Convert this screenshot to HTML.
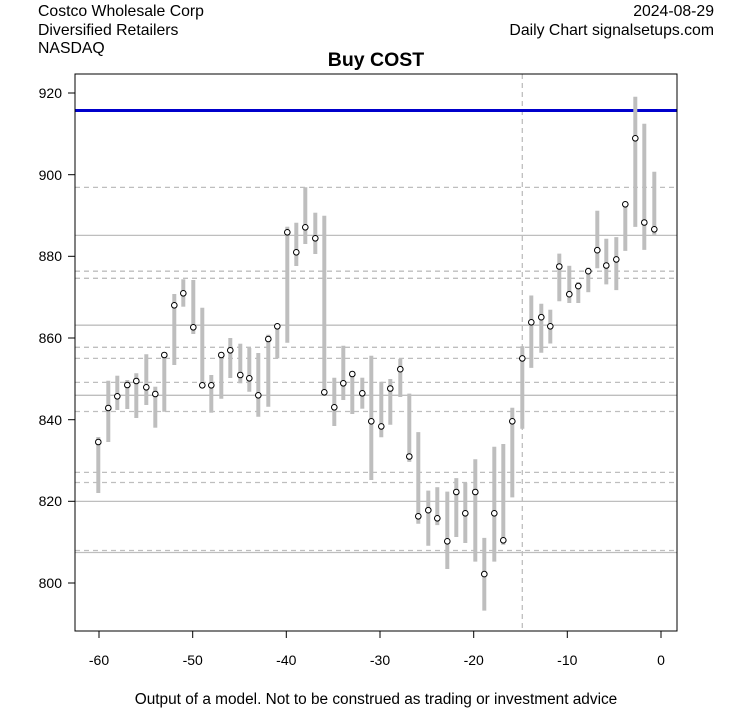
<!DOCTYPE html>
<html><head><meta charset="utf-8"><style>
body{margin:0;background:#fff;}
svg text{font-family:"Liberation Sans",Arial,sans-serif;}
</style></head><body>
<svg width="753" height="708" viewBox="0 0 753 708" xmlns="http://www.w3.org/2000/svg">
<rect width="753" height="708" fill="#fff"/>
<text x="38" y="16" font-size="15.8">Costco Wholesale Corp</text>
<text x="38" y="35" font-size="15.8">Diversified Retailers</text>
<text x="38" y="53" font-size="15.8">NASDAQ</text>
<text x="714" y="16" font-size="15.8" text-anchor="end">2024-08-29</text>
<text x="714" y="35" font-size="15.8" text-anchor="end">Daily Chart signalsetups.com</text>
<text x="376" y="66" font-size="19.5" font-weight="bold" text-anchor="middle">Buy COST</text>
<g stroke="#bebebe" stroke-width="1.3">
<line x1="75" x2="677" y1="235.4" y2="235.4"/>
<line x1="75" x2="677" y1="325.2" y2="325.2"/>
<line x1="75" x2="677" y1="395.3" y2="395.3"/>
<line x1="75" x2="677" y1="501.4" y2="501.4"/>
<line x1="75" x2="677" y1="552.5" y2="552.5"/>
</g>
<g stroke="#bebebe" stroke-width="1.3" stroke-dasharray="5,4">
<line x1="75" x2="677" y1="187.4" y2="187.4"/>
<line x1="75" x2="677" y1="271.2" y2="271.2"/>
<line x1="75" x2="677" y1="278.3" y2="278.3"/>
<line x1="75" x2="677" y1="347.3" y2="347.3"/>
<line x1="75" x2="677" y1="358.4" y2="358.4"/>
<line x1="75" x2="677" y1="382.4" y2="382.4"/>
<line x1="75" x2="677" y1="411.5" y2="411.5"/>
<line x1="75" x2="677" y1="472.4" y2="472.4"/>
<line x1="75" x2="677" y1="482.5" y2="482.5"/>
<line x1="75" x2="677" y1="550.5" y2="550.5"/>
<line x1="522.3" x2="522.3" y1="74" y2="631"/>
</g>
<line x1="75" x2="677" y1="110.5" y2="110.5" stroke="#0000cc" stroke-width="3"/>
<g id="bars" stroke="#bebebe" stroke-width="4"></g>
<g id="pts" stroke="#000" stroke-width="1" fill="#fff"></g>
<rect x="75" y="74" width="602" height="557" fill="none" stroke="#000" stroke-width="1"/>
<g stroke="#000" stroke-width="1">
<line x1="68" x2="75" y1="93" y2="93"/><line x1="68" x2="75" y1="174.7" y2="174.7"/>
<line x1="68" x2="75" y1="256.3" y2="256.3"/><line x1="68" x2="75" y1="338" y2="338"/>
<line x1="68" x2="75" y1="419.7" y2="419.7"/><line x1="68" x2="75" y1="501.3" y2="501.3"/>
<line x1="68" x2="75" y1="583" y2="583"/>
<line x1="99" x2="99" y1="631" y2="638"/><line x1="192.7" x2="192.7" y1="631" y2="638"/>
<line x1="286.3" x2="286.3" y1="631" y2="638"/><line x1="380" x2="380" y1="631" y2="638"/>
<line x1="473.7" x2="473.7" y1="631" y2="638"/><line x1="567.3" x2="567.3" y1="631" y2="638"/>
<line x1="661" x2="661" y1="631" y2="638"/>
</g>
<g font-size="14" text-anchor="end">
<text x="62" y="98">920</text><text x="62" y="180">900</text><text x="62" y="261">880</text>
<text x="62" y="343">860</text><text x="62" y="425">840</text><text x="62" y="506">820</text>
<text x="62" y="588">800</text>
</g>
<g font-size="14" text-anchor="middle">
<text x="99" y="665">-60</text><text x="192.7" y="665">-50</text><text x="286.3" y="665">-40</text>
<text x="380" y="665">-30</text><text x="473.7" y="665">-20</text><text x="567.3" y="665">-10</text>
<text x="661" y="665">0</text>
</g>
<text x="376" y="704" font-size="15.4" text-anchor="middle">Output of a model. Not to be construed as trading or investment advice</text>
<script>
var d=[[98.3,437,493,442],[108.3,380.7,442,408],[117.3,375.7,410,396.3],[127.3,380,409,385],[136.3,373.3,418,381],[146.3,354.3,405,387.3],[155.3,386.7,427.7,394],[164.3,354.3,411.7,355],[174.3,294,365,305.3],[183.3,279.3,306.7,293.3],[193.3,280,334,327.3],[202.3,307.7,387.3,385.3],[211.3,375,412.7,385.3],[221.3,355.3,398.7,355],[230.3,338,378,350.3],[240.3,343.7,383.3,375],[249.3,348,391.7,378.3],[258.3,353,416.7,395.3],[268.3,334.7,406.7,339],[277.3,326.7,358.3,326.3],[287.3,226.7,342.7,232.3],[296.3,222.7,266,252.3],[305.3,187.3,244,227.3],[315.3,212.7,254,238.3],[324.3,215.7,392.3,392.3],[334.3,377.7,426,407.3],[343.3,345.7,400,383.3],[352.3,374,414,374],[362.3,377.7,408.7,393.3],[371.3,355.7,480,421.3],[381.3,381.8,437.2,426.4],[390.3,379,424.7,388.5],[400.3,358.8,397,369.2],[409.3,393.6,461.9,456.5],[418.3,432.1,523.7,516.3],[428.3,490.6,545.7,510.2],[437.3,487.2,525.1,518.3],[447.3,491.6,569,541.3],[456.3,478.1,537,492],[465.3,482.8,543,513.3],[475.3,459.2,561.6,492],[484.3,537.9,610.6,574.1],[494.3,446.7,561.6,513.3],[503.3,444,544.7,540.3],[512.3,407.8,497.4,421.3],[522.3,346.3,428.7,358.4],[531.3,295.5,367.9,322.3],[541.3,303.7,352.7,317.2],[550.3,309.7,343.5,326.3],[559.3,253.6,301.3,266.5],[569.3,265.8,303,294.2],[578.3,282,303,286.1],[588.3,267.5,292.2,271.2],[597.3,210.7,268.2,250.2],[606.3,238.7,284.4,265.5],[616.3,237.1,290.1,259.4],[625.3,201.6,250.9,204.3],[635.3,96.8,226.9,138.3],[644.3,123.8,249.9,222.5],[654.3,171.8,234.7,229.3]];
var ns="http://www.w3.org/2000/svg",b=document.getElementById("bars"),p=document.getElementById("pts");
d.forEach(function(r){var l=document.createElementNS(ns,"line");l.setAttribute("x1",r[0]);l.setAttribute("x2",r[0]);l.setAttribute("y1",r[1]);l.setAttribute("y2",r[2]);b.appendChild(l);
var c=document.createElementNS(ns,"circle");c.setAttribute("cx",r[0]);c.setAttribute("cy",r[3]);c.setAttribute("r",2.8);p.appendChild(c);});
</script>
</svg>
</body></html>
